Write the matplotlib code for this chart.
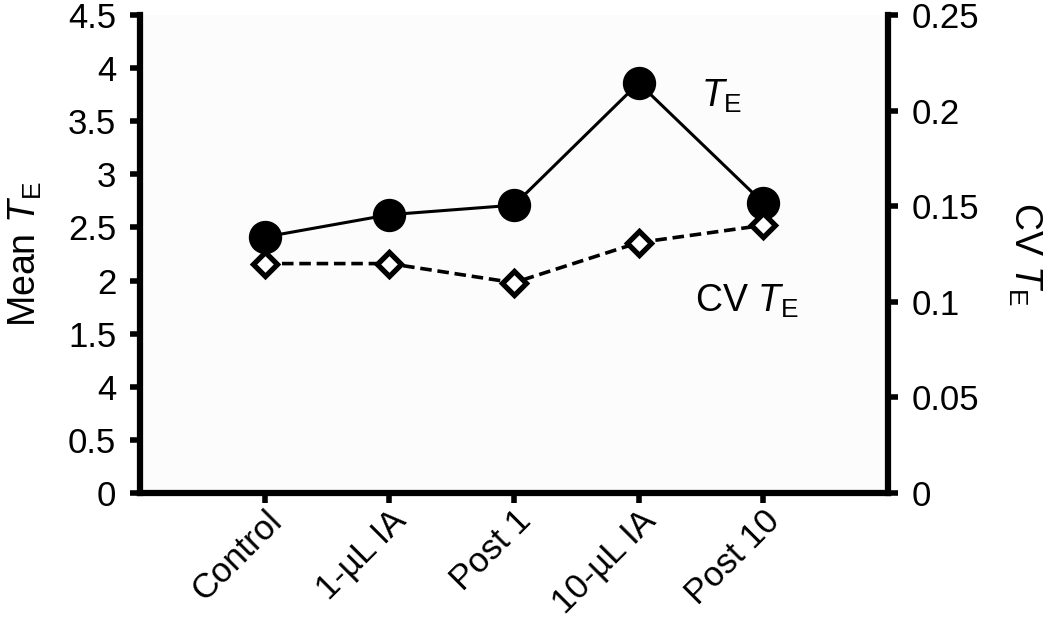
import matplotlib
matplotlib.use("Agg")
import matplotlib.pyplot as plt

plt.rcParams['font.family'] = ['Liberation Sans', 'DejaVu Sans']
plt.rcParams['mathtext.fontset'] = 'custom'
plt.rcParams['mathtext.rm'] = 'Liberation Sans'
plt.rcParams['mathtext.it'] = 'Liberation Sans:italic'

categories = ["Control", "1-\u00b5L IA", "Post 1", "10-\u00b5L IA", "Post 10"]
mean_te = [2.41, 2.62, 2.71, 3.86, 2.73]
cv_te = [0.120, 0.120, 0.110, 0.131, 0.140]
left_ticks = [0, 0.5, 1, 1.5, 2, 2.5, 3, 3.5, 4, 4.5]
left_ticklabels = ["0", "0.5", "4", "1.5", "2", "2.5", "3", "3.5", "4", "4.5"]
right_ticks = [0, 0.05, 0.1, 0.15, 0.2, 0.25]
right_ticklabels = ["0", "0.05", "0.1", "0.15", "0.2", "0.25"]

fig = plt.figure(figsize=(10.5, 6.2), dpi=100)
ax = fig.add_axes([0.1333, 0.2048, 0.7124, 0.771])
ax2 = ax.twinx()

x = list(range(len(categories)))
ax.plot(x, mean_te, color='black', lw=2.2, marker='o', markersize=23,
        markerfacecolor='black', markeredgecolor='black', zorder=3)
ax2.plot(x, cv_te, color='black', lw=2.6, ls=(0, (3.2, 1.6)), marker='D', markersize=12,
         markerfacecolor='white', markeredgecolor='black', markeredgewidth=3.8, zorder=3)

ax.set_xlim(-1, 5)
ax.set_ylim(0, 4.5)
ax2.set_ylim(0, 0.25)

ax.set_yticks(left_ticks)
ax.set_yticklabels(left_ticklabels)
ax2.set_yticks(right_ticks)
ax2.set_yticklabels(right_ticklabels)
ax.set_xticks(x)
ax.set_xticklabels(categories, rotation=45, ha='right', va='top', rotation_mode='anchor')

for a in (ax, ax2):
    for s in a.spines.values():
        s.set_linewidth(4.5)
    a.spines['top'].set_visible(False)
    a.tick_params(width=4, length=7, labelsize=25, direction='out', pad=10)
ax.spines['right'].set_visible(False)
ax2.spines['left'].set_visible(False)
ax2.spines['bottom'].set_visible(False)
ax.tick_params(axis='x', pad=1, labelsize=25)

ax.set_ylabel(r"Mean $T_{\mathrm{E}}$", fontsize=27, labelpad=17)
ax2.set_ylabel(r"CV $T_{\mathrm{E}}$", fontsize=27, rotation=-90, labelpad=46)

ax.text(3.5, 3.73, r"$T_{\mathrm{E}}$", fontsize=27, ha='left', va='center')
ax2.text(3.45, 0.1, r"CV $T_{\mathrm{E}}$", fontsize=27, ha='left', va='center')

ax.set_facecolor('#fcfcfc')
fig.savefig("out.png", dpi=100, facecolor='white')
